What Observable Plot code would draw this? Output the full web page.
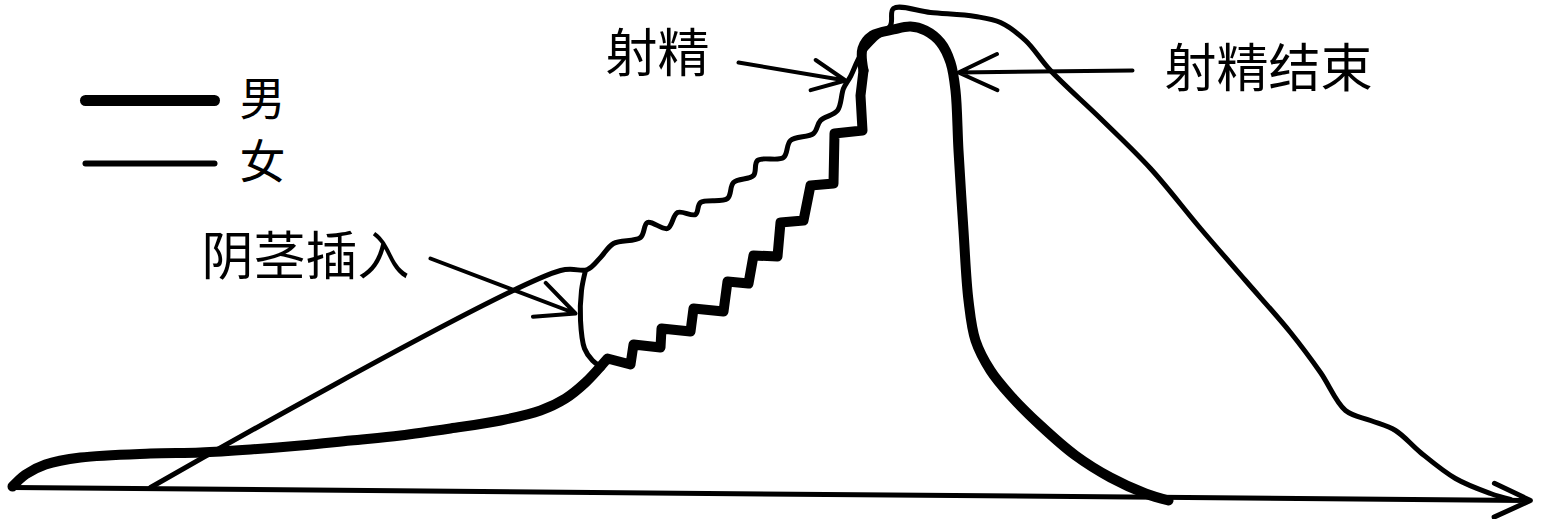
<!DOCTYPE html>
<html><head><meta charset="utf-8">
<script src="https://cdn.jsdelivr.net/npm/d3@7"></script>
<script src="https://cdn.jsdelivr.net/npm/@observablehq/plot@0.6"></script>
<style>html,body{margin:0;padding:0;background:#fff;overflow:hidden}</style>
</head><body><div id="chart"></div>
<script>
// time (x) and arousal level (y)
// male: slow rise, stepped plateau, peak and fall
const maleRiseTime  = [12,25,45,80,150,200,250,300,350,400,450,500,540,565,585,600];
const maleRiseLevel = [33,45,55,62,66,67,70,74,79,84,91,99,109,121,137,153];
const maleStepTime  = [600,607,630,633,660,661,690,693,723,727,748,753,777,780,803,810,833,834,862,860,863];
const maleStepLevel = [153,161,155,175,172,191,188,211,208,238,236,264,263,297,299,334,336,386,389,424,449];
const maleFallTime  = [863,862,872,893,910,925,940,950,955,958,963,968,975,990,1010,1040,1075,1110,1145,1168];
const maleFallLevel = [449,471,484,490,493,489,477,457,429,369,289,219,179,149,124,94,64,42,26,19];

const femaleTime  = [150,560,587,600,613,640,647,667,677,695,700,727,733,753,757,783,790,813,820,837,843,850,
  860,875,890,893,930,975,1000,1025,1050,1100,1150,1200,1245,1290,1320,1345,1370,1395,1420,1455,1490,1510];
const femaleLevel = [32,249,250,262,276,282,297,291,307,305,317,321,337,344,359,362,379,386,399,409,431,443,
  464,481,494,511,507,503,497,479,449,401,351,291,239,187,147,109,99,89,67,41,26,20];

// insertion link between the two curves
const linkTime  = [585,581,580,584,592,600];
const linkLevel = [249,229,199,171,159,153];

// time axis
const axisTime  = [12,1530];
const axisLevel = [32,19];

// legend
const legendLabels = ["男","女"];
const legendLevel  = [419,356];
const legendFrom   = 85;
const legendTo     = 214;

// annotations
const noteLabels = ["阴茎插入","射精","射精结束"];
const noteTime   = [305,657,1268];
const noteLevel  = [261,464,449];
const arrowFromTime  = [430,738,1132];
const arrowFromLevel = [261,457,449];
const arrowToTime    = [575,845,958];
const arrowToLevel   = [206,439,447];

const pts = (ts, vs) => ts.map((t,i)=>({t, v: vs[i]}));
const maleRise = pts(maleRiseTime, maleRiseLevel);
const maleStep = pts(maleStepTime, maleStepLevel);
const maleFall = pts(maleFallTime, maleFallLevel);
const female = pts(femaleTime, femaleLevel);
const link = pts(linkTime, linkLevel);
const notes = noteLabels.map((s,i)=>({s, t: noteTime[i], v: noteLevel[i]}));
const arrows = arrowFromTime.map((t,i)=>({x1:t, y1:arrowFromLevel[i], x2:arrowToTime[i], y2:arrowToLevel[i]}));
const legend = legendLabels.map((s,i)=>({s, v: legendLevel[i]}));

const font = "'Noto Sans CJK SC', 'Noto Sans', sans-serif";
const maleStyle = {x:"t", y:"v", stroke:"#000", strokeWidth:10, strokeLinejoin:"round", strokeLinecap:"round"};

const chart = Plot.plot({
  width: 1545, height: 519,
  margin: 0,
  x: {domain: [0,1545], axis: null},
  y: {domain: [0,519], axis: null},
  style: {background: "#fff"},
  marks: [
    Plot.arrow([{x1: axisTime[0], y1: axisLevel[0], x2: axisTime[1], y2: axisLevel[1]}],
      {x1:"x1", y1:"y1", x2:"x2", y2:"y2", stroke:"#000", strokeWidth:5, headLength:12, headAngle:50}),
    Plot.line(female, {x:"t", y:"v", stroke:"#000", strokeWidth:5, curve:"catmull-rom", strokeLinejoin:"round", strokeLinecap:"round"}),
    Plot.line(link, {x:"t", y:"v", stroke:"#000", strokeWidth:5, curve:"catmull-rom", strokeLinecap:"round"}),
    Plot.line(maleRise, {...maleStyle, curve:"catmull-rom"}),
    Plot.line(maleStep, {...maleStyle, curve:"linear"}),
    Plot.line(maleFall, {...maleStyle, curve:"catmull-rom"}),
    Plot.arrow(arrows, {x1:"x1", y1:"y1", x2:"x2", y2:"y2", stroke:"#000", strokeWidth:4, headLength:16, headAngle:50}),
    Plot.link(legend.slice(0,1), {x1: () => legendFrom, x2: () => legendTo, y1:"v", y2:"v", stroke:"#000", strokeWidth:11, strokeLinecap:"round"}),
    Plot.link(legend.slice(1), {x1: () => legendFrom, x2: () => legendTo, y1:"v", y2:"v", stroke:"#000", strokeWidth:6, strokeLinecap:"round"}),
    Plot.text(legend, {x: () => 262, y:"v", text:"s", fontSize:46, lineHeight:1, fontFamily:font, fill:"#000"}),
    Plot.text(notes, {x:"t", y:"v", text:"s", fontSize:52, fontFamily:font, fill:"#000"})
  ]
});
document.getElementById("chart").appendChild(chart);
</script>
</body></html>
